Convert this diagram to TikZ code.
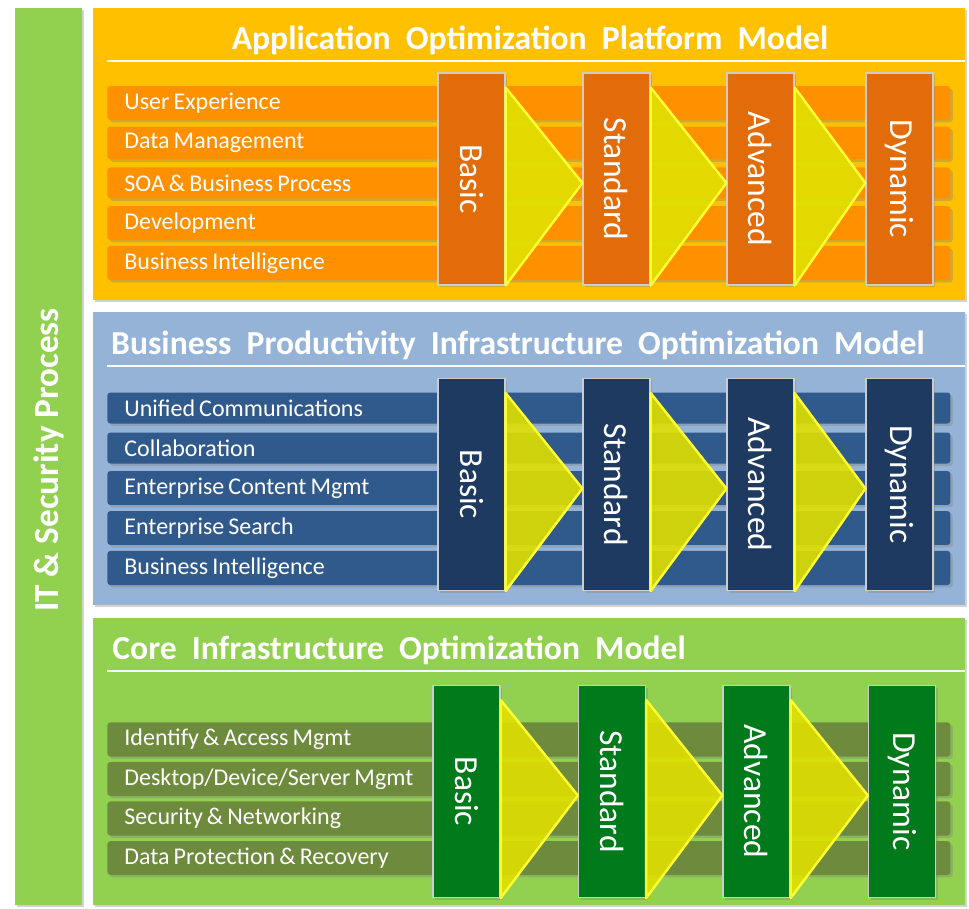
\documentclass[tikz,border=0pt]{standalone}
\usepackage{fontspec}
\setmainfont{Carlito}
\usepackage{tikz}
\usetikzlibrary{calc, shadows}
\definecolor{sidegreen}{HTML}{92D050}
\definecolor{appbg}{HTML}{FFC000}
\definecolor{appbar}{HTML}{FF9000}
\definecolor{appbox}{HTML}{E26B0A}
\definecolor{bizbg}{HTML}{95B3D7}
\definecolor{bizbar}{HTML}{305A8C}
\definecolor{bizbox}{HTML}{1F3A60}
\definecolor{corebg}{HTML}{92D050}
\definecolor{corebar}{HTML}{6E8B3D}
\definecolor{corebox}{HTML}{007A1A}
\definecolor{chevfill}{HTML}{E0E000}
\definecolor{chevline}{HTML}{FFFF33}
\newcommand{\tightwords}{\spaceskip=0.17em plus 0.05em\relax}

\tikzset{
  softshadow/.style={drop shadow={shadow xshift=1.2pt, shadow yshift=-1.2pt, opacity=0.35}},
  panel/.style={fill=#1, softshadow},
  titletext/.style={text=white, inner sep=0pt, font=\fontsize{16.8}{19}\selectfont\bfseries},
  bar/.style={fill=#1, text=white, anchor=west, rounded corners=1.5pt, softshadow,
    minimum width=421.5pt, minimum height=15.5pt, inner xsep=8.5pt, text width=404.5pt,
    align=left, font=\fontsize{12}{14}\selectfont, execute at begin node=\tightwords},
  stage/.style={fill=#1, draw=white!80!black, line width=0.6pt, text=white, rotate=-90,
    minimum width=106pt, minimum height=33.5pt, softshadow, font=\fontsize{16.8}{19}\selectfont},
  chevron/.style={fill=chevfill, fill opacity=0.9, draw=chevline, line width=1.2pt, line join=round}
}

\begin{document}
\begin{tikzpicture}[x=0.5pt, y=-0.5pt]
		\fill[white] (0,0) rectangle (969,909);
		\useasboundingbox (0,0) rectangle (969,909);

		% side bar
		\fill[sidegreen, softshadow] (15,8) rectangle (82,905);
		\node[titletext, rotate=90, font=\fontsize{17.6}{20}\selectfont\bfseries] (side) at (48.5,460) {IT \& Security Process};

		% application platform
		\fill[panel=appbg] (93,8) rectangle (965,300);
		\node[titletext] (apptitle) at (530,40) {Application\ \ Optimization\ \ Platform\ \ Model};
		\draw[white, line width=1pt] (107,61) -- (965,61);
		\foreach \t [count=\i] in {User Experience, Data Management, SOA \& Business Process, Development, Business Intelligence}
			\node[bar=appbar] (appbar\i) at (107,63+40*\i) {\t};
		\foreach \s/\x [count=\i] in {Basic/471.5, Standard/616.5, Advanced/760.5, Dynamic/899.5}
			\node[stage=appbox] (app\i) at (\x,179) {\s};
		\foreach \i/\j in {1/2, 2/3, 3/4}
			\filldraw[chevron] ($(app\i.north west)+(0,15)$) -- (app\i.north east) -- ($(app\j.south)+(0,4)$) -- cycle;

		% business productivity
		\fill[panel=bizbg] (93,312) rectangle (965,605);
		\node[titletext] (biztitle) at (518,345) {Business\ \ Productivity\ \ Infrastructure\ \ Optimization\ \ Model};
		\draw[white, line width=1pt] (107,366) -- (965,366);
		\foreach \t [count=\i] in {Unified Communications, Collaboration, Enterprise Content Mgmt, Enterprise Search, Business Intelligence}
			\node[bar=bizbar] (bizbar\i) at (107,368+40*\i) {\t};
		\foreach \s/\x [count=\i] in {Basic/471.5, Standard/616.5, Advanced/760.5, Dynamic/899.5}
			\node[stage=bizbox] (biz\i) at (\x,484.5) {\s};
		\foreach \i/\j in {1/2, 2/3, 3/4}
			\filldraw[chevron] ($(biz\i.north west)+(0,15)$) -- (biz\i.north east) -- ($(biz\j.south)+(0,4)$) -- cycle;

		% core infrastructure
		\fill[panel=corebg] (93,618) rectangle (965,905);
		\node[titletext, anchor=west] (coretitle) at (112,650) {Core\ \ Infrastructure\ \ Optimization\ \ Model};
		\draw[white, line width=1pt] (107,671) -- (965,671);
		\foreach \t [count=\i] in {Identify \& Access Mgmt, Desktop/Device/Server Mgmt, Security \& Networking, Data Protection \& Recovery}
			\node[bar=corebar] (corebar\i) at (107,700+39.5*\i) {\t};
		\foreach \s/\x [count=\i] in {Basic/466.5, Standard/612, Advanced/756.5, Dynamic/902}
			\node[stage=corebox] (core\i) at (\x,791.5) {\s};
		\foreach \i/\j in {1/2, 2/3, 3/4}
			\filldraw[chevron] ($(core\i.north west)+(0,15)$) -- (core\i.north east) -- ($(core\j.south)+(0,4)$) -- cycle;
	\end{tikzpicture}
\end{document}
